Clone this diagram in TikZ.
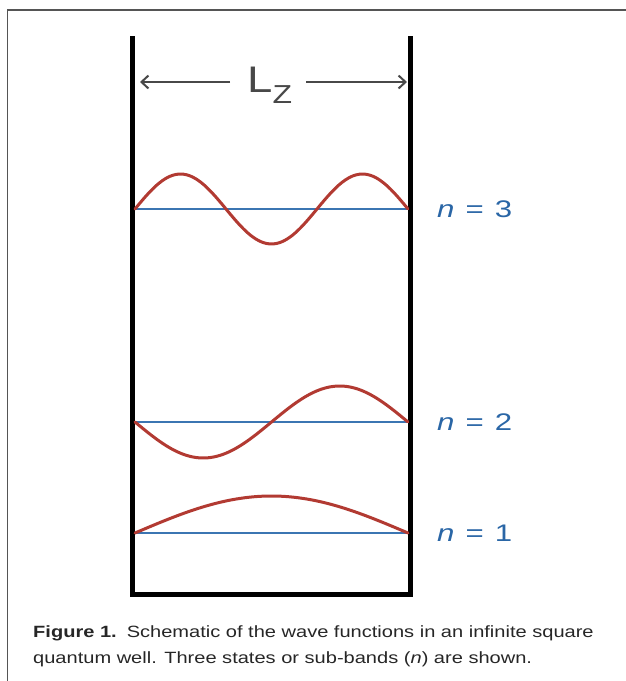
\documentclass[tikz,border=0pt]{standalone}
\usepackage{fontspec}
\setmainfont{Liberation Sans}[FakeStretch=1.23]
\newfontfamily\lblfont{Liberation Sans}[FakeStretch=1.3]
\usepackage{tikz}
\usetikzlibrary{arrows.meta,positioning}

\definecolor{wellblue}{RGB}{59,117,178}
\definecolor{wavered}{RGB}{178,58,50}
\definecolor{lblblue}{RGB}{42,102,166}
\definecolor{dimgray}{RGB}{72,72,72}
\definecolor{framegray}{RGB}{85,85,85}

\tikzset{
	wall/.style={line width=5pt,black},
	level/.style={line width=2.8pt,wellblue},
	wave/.style={line width=3pt,wavered,line cap=round,smooth},
	dimarrow/.style={line width=2pt,dimgray,->},
	lbl/.style={inner sep=0pt,text=lblblue,font=\lblfont\fontsize{24}{24}\selectfont},
	captext/.style={inner sep=0pt,text={black!85},font=\fontsize{16.3}{26}\selectfont}
}
\newcommand{\lvl}[1]{\textit{n}\hspace{11pt}=\hspace{11pt}#1}

\begin{document}
\begin{tikzpicture}[x=1pt,y=-1pt,>={Straight Barb[length=7pt,width=13pt,line width=2pt]},node distance=25pt]
			\useasboundingbox (0,0) rectangle (626,681);
			\draw[framegray,line width=1.5pt] (7.3,681) -- (7.3,10.2) -- (626,10.2);
			\coordinate (wTL) at (132.5,36);
			\coordinate (wBL) at (132.5,594.5);
			\coordinate (wBR) at (410,594.5);
			\coordinate (wTR) at (410,36);
			\draw[wall] (wTL) -- (wBL) -- (wBR) -- (wTR);
			\coordinate (aL) at (132.5,82);
			\coordinate (aR) at (410,82);
			\node[inner sep=0pt,anchor=base west,text=dimgray,font=\fontsize{37}{37}\selectfont] (lz) at (247,92) {L\raisebox{-11pt}{\fontsize{26}{26}\selectfont Z}};
			\draw[dimarrow,shorten <=17pt,shorten >=7.5pt] (lz.west |- aL) -- (aL);
			\draw[dimarrow,shorten <=14pt,shorten >=3pt] (lz.east |- aR) -- (aR);
			\coordinate (l3) at (135,209);
			\coordinate (r3) at (408,209);
			\coordinate (l2) at (135,422);
			\coordinate (r2) at (408,422);
			\coordinate (l1) at (135,533);
			\coordinate (r1) at (408,533);
			\draw[level] (l3) -- (r3);
			\draw[level] (l2) -- (r2);
			\draw[level] (l1) -- (r1);
			\draw[wave] plot[domain=0:1,samples=80] ({135+273*\x},{209-35*sin(540*\x)});
			\draw[wave] plot[domain=0:1,samples=60] ({135+273*\x},{422+36*sin(360*\x)});
			\draw[wave] plot[domain=0:1,samples=40] ({135+273*\x},{533-37*sin(180*\x)});
			\node[lbl,anchor=west] [right=29pt of r3] (n3) {\lvl{3}};
			\node[lbl,anchor=west] [right=29pt of r2] (n2) {\lvl{2}};
			\node[lbl,anchor=west] [right=29pt of r1] (n1) {\lvl{1}};
			\node[captext,anchor=base west] (cap1) at (33,637) {\textbf{Figure 1.}\hspace{10pt}Schematic of the wave functions in an infinite square};
			\node[captext,anchor=base west] (cap2) at (33,663) {quantum well. Three states or sub-bands (\textit{n}) are shown.};
		\end{tikzpicture}
\end{document}
